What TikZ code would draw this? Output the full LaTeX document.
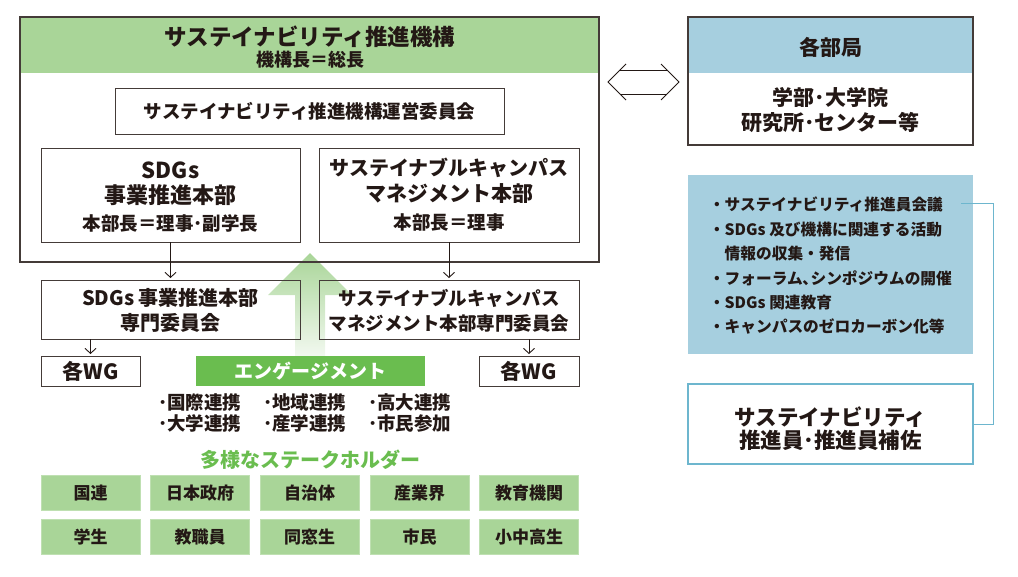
\documentclass[tikz,border=0pt]{standalone}
\usepackage{fontspec}
\setmainfont{Noto Sans CJK JP}
\usetikzlibrary{arrows.meta}
\definecolor{ink}{HTML}{231815}
\definecolor{hgreen}{HTML}{A9D598}
\definecolor{egreen}{HTML}{6ABD4F}
\definecolor{bluef}{HTML}{A6CFDF}
\definecolor{bluel}{HTML}{6DB6CE}
\definecolor{shline}{HTML}{BFE0B2}
\newcommand\fsz[1]{\fontsize{#1}{#1}\selectfont\bfseries}
\begin{document}
\begin{tikzpicture}[x=1pt,y=-1pt,
 box/.style={draw=ink!85, line width=1pt, inner sep=0pt, outer sep=0pt, text=ink},
 txt/.style={inner sep=0pt, outer sep=0pt, text=ink, align=center},
 arr/.style={draw=ink, line width=0.9pt, -{Straight Barb[length=5pt,width=11pt]}, shorten >=2pt},
 stk/.style={fill=hgreen, draw=shline, line width=0.8pt, minimum width=99pt, minimum height=35pt, inner sep=0pt, text=ink, font=\fsz{17}},
 dbl/.style={draw=ink, line width=1pt},
]
\useasboundingbox (0,0) rectangle (1018,576);

% header of the organisation box
\node[fill=hgreen, minimum width=579pt, minimum height=56pt, anchor=north west, inner sep=0pt, outer sep=0pt] (head) at (20,17) {};

% big engagement arrow
\shade[top color=hgreen, bottom color=hgreen!15] (310,253) -- (352,295) -- (325,295) -- (325,356) -- (295,356) -- (295,295) -- (268,295) -- cycle;

\node[box, line width=1.3pt, minimum width=579pt, minimum height=245pt, anchor=north west] (org) at (20,17) {};
\node[txt, font=\fsz{22.5}] (ttl) at (310,37) {サステイナビリティ推進機構};
\node[txt, font=\fsz{18}] (ttl2) at (310,60) {機構長＝総長};

\node[box, minimum width=389pt, minimum height=46pt, font=\fsz{18.5}] (unei) at (309.5,111) {サステイナビリティ推進機構運営委員会};

\node[box, minimum width=259pt, minimum height=94pt] (sdgs) at (170.5,195) {};
\node[txt, font=\fsz{22}] (sdgs1) at (170.5,170) {SDGs};
\node[txt, font=\fsz{22}] (sdgs2) at (170.5,195) {事業推進本部};
\node[txt, font=\fsz{18.5}] (sdgs3) at (170.5,223) {本部長＝理事･副学長};

\node[box, minimum width=260pt, minimum height=94pt] (scm) at (449,195) {};
\node[txt, font=\fsz{20}] (scm1) at (449,168) {サステイナブルキャンパス};
\node[txt, font=\fsz{21}] (scm2) at (449,194) {マネジメント本部};
\node[txt, font=\fsz{18.5}] (scm3) at (449,222) {本部長＝理事};

\node[box, minimum width=259pt, minimum height=59pt] (sdgsc) at (170.5,309.5) {};
\node[txt, font=\fsz{20}] (sdgsc1) at (170.5,298) {SDGs 事業推進本部};
\node[txt, font=\fsz{20}] (sdgsc2) at (170.5,323) {専門委員会};

\node[box, minimum width=260pt, minimum height=59pt] (scmc) at (449,309.5) {};
\node[txt, font=\fsz{18.5}] (scmc1) at (449,298) {サステイナブルキャンパス};
\node[txt, font=\fsz{18.5}] (scmc2) at (449,323) {マネジメント本部専門委員会};

\draw[arr] (sdgs.south) -- (sdgsc.north);
\draw[arr] (scm.south) -- (scmc.north);

\node[box, minimum width=99pt, minimum height=30pt, font=\fsz{21}] (wgl) at (90.5,371) {各WG};
\node[box, minimum width=100pt, minimum height=30pt, font=\fsz{21}] (wgr) at (529,371) {各WG};
\draw[arr] (sdgsc.south -| wgl.north) -- (wgl.north);
\draw[arr] (scmc.south -| wgr.north) -- (wgr.north);

\node[fill=egreen, minimum width=229pt, minimum height=30pt, inner sep=0pt, text=white, font=\fsz{19}] (eng) at (310.5,371) {エンゲージメント};

\node[txt, anchor=west, font=\fsz{18.5}] (b1) at (158,402) {･国際連携};
\node[txt, anchor=west, font=\fsz{18.5}] (b2) at (263,402) {･地域連携};
\node[txt, anchor=west, font=\fsz{18.5}] (b3) at (368,402) {･高大連携};
\node[txt, anchor=west, font=\fsz{18.5}] (b4) at (158,423) {･大学連携};
\node[txt, anchor=west, font=\fsz{18.5}] (b5) at (263,423) {･産学連携};
\node[txt, anchor=west, font=\fsz{18.5}] (b6) at (368,423) {･市民参加};

\node[txt, text=egreen, font=\fsz{20}] (stk) at (310,460) {多様なステークホルダー};

\node[stk] (s1) at (90.5,493) {国連};
\node[stk] (s2) at (200,493) {日本政府};
\node[stk] (s3) at (309.5,493) {自治体};
\node[stk] (s4) at (419.5,493) {産業界};
\node[stk] (s5) at (529,493) {教育機関};
\node[stk] (s6) at (90.5,537) {学生};
\node[stk] (s7) at (200,537) {教職員};
\node[stk] (s8) at (309.5,537) {同窓生};
\node[stk] (s9) at (419.5,537) {市民};
\node[stk] (s10) at (529,537) {小中高生};

% right side
\node[fill=bluef, minimum width=285pt, minimum height=56pt, anchor=north west, inner sep=0pt, outer sep=0pt] (bkh) at (688,17) {};
\node[box, line width=1.3pt, minimum width=285pt, minimum height=128pt, anchor=north west] (bk) at (688,17) {};
\node[txt, font=\fsz{21}] (bk1) at (830.5,47) {各部局};
\node[txt, font=\fsz{21}] (bk2) at (830.5,97) {学部･大学院};
\node[txt, font=\fsz{21}] (bk3) at (830.5,123) {研究所･センター等};

% double arrow between organisation and departments
\coordinate (dl) at (608,82);
\coordinate (dr) at (679,82);
\draw[dbl] (dl) ++(18,-18) -- (dl) -- ++(18,18);
\draw[dbl] (dr) ++(-18,-18) -- (dr) -- ++(-18,18);
\draw[dbl] ([shift={(12,-12)}]dl) -- ([shift={(-12,-12)}]dr);
\draw[dbl] ([shift={(12,12)}]dl) -- ([shift={(-12,12)}]dr);

\node[fill=bluef, minimum width=285pt, minimum height=179pt, anchor=north west, inner sep=0pt, outer sep=0pt] (act) at (688,175) {};
\node[txt, anchor=west, align=left, font=\fontsize{15.7}{24.4}\selectfont\bfseries] (acttxt) at (709,266) {・サステイナビリティ推進員会議\\・SDGs 及び機構に関連する活動\\\hspace*{1em}情報の収集・発信\\・フォーラム､シンポジウムの開催\\・SDGs 関連教育\\・キャンパスのゼロカーボン化等};

\node[draw=bluel, line width=1.6pt, minimum width=285pt, minimum height=80pt, anchor=north west, inner sep=0pt, outer sep=0pt] (sui) at (688,384) {};
\node[txt, font=\fsz{21.5}] (sui1) at (830.5,417) {サステイナビリティ};
\node[txt, font=\fsz{21.5}] (sui2) at (830.5,440) {推進員･推進員補佐};

\coordinate (c1) at (961,203);
\draw[bluel, line width=1pt] (c1) -- ++(32,0) |- (sui.east);
\end{tikzpicture}
\end{document}
